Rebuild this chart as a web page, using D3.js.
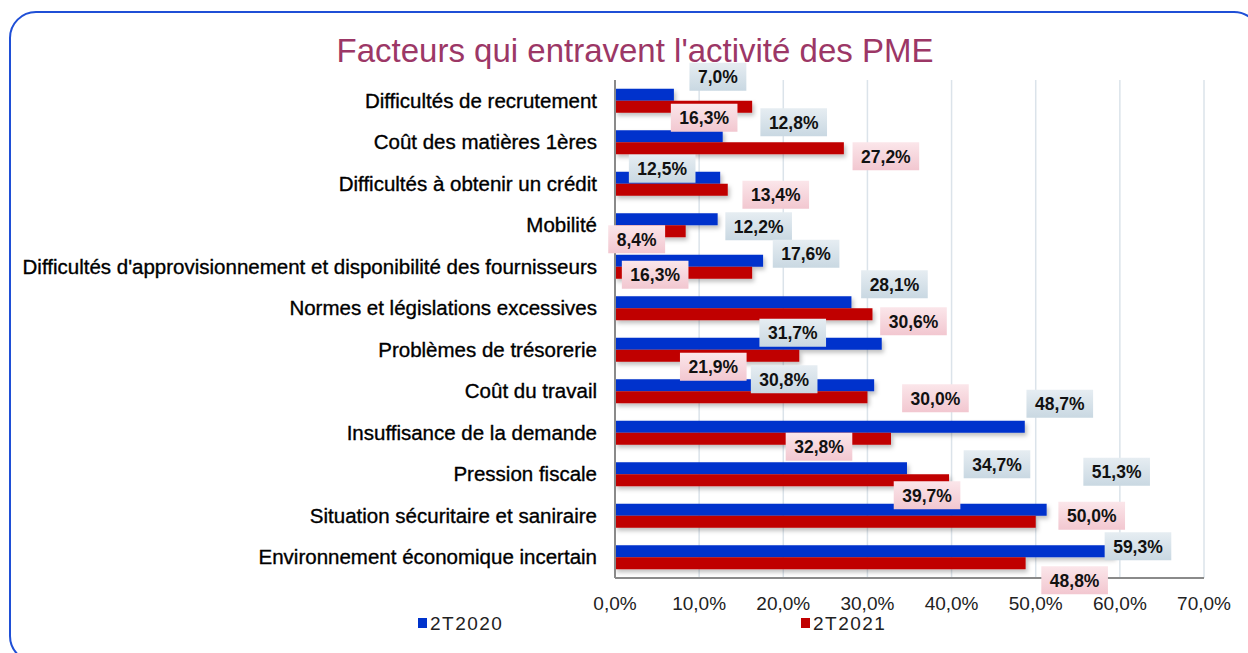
<!DOCTYPE html>
<html>
<head>
<meta charset="utf-8">
<script src="https://cdn.jsdelivr.net/npm/d3@7/dist/d3.min.js"></script>
<style>
  body { margin: 0; background: #fff; }
  svg { display: block; font-family: 'Liberation Sans', Arial, sans-serif; }
</style>
</head>
<body>
<svg id="chart" width="1248" height="653"></svg>
<script>
var categories = [
  'Difficultés de recrutement',
  'Coût des matières 1ères',
  'Difficultés à obtenir un crédit',
  'Mobilité',
  "Difficultés d'approvisionnement et disponibilité des fournisseurs",
  'Normes et législations excessives',
  'Problèmes de trésorerie',
  'Coût du travail',
  'Insuffisance de la demande',
  'Pression fiscale',
  'Situation sécuritaire et saniraire',
  'Environnement économique incertain'
]
var values2020 = [7.0, 12.8, 12.5, 12.2, 17.6, 28.1, 31.7, 30.8, 48.7, 34.7, 51.3, 59.3]
var values2021 = [16.3, 27.2, 13.4, 8.4, 16.3, 30.6, 21.9, 30.0, 32.8, 39.7, 50.0, 48.8]
var seriesNames = ['2T2020', '2T2021']
var xTicks = [0, 10, 20, 30, 40, 50, 60, 70]

// hand placed data labels in the original, nudges from the bar end (px)
var nudge2020 = [[44, -18], [71, -14], [-58, -9], [41, 7], [43, -7], [43, -18], [-89, -11], [-90, -6], [35, -23], [90, -4], [70, -38], [24, -5]]
var nudge2021 = [[-48, 11], [42, 8], [48, 5], [-49, 8], [-97, 2], [41, 7], [-86, 11], [68, 1], [-72, 8], [-22, 15], [56, -6], [49, 17]]

var svg = d3.select('#chart')
var margin = { left: 615, right: 44, top: 80, bottom: 75 }
var width = 1248 - margin.left - margin.right
var height = 653 - margin.top - margin.bottom

var defs = svg.append('defs')
function grad (id, c1, c2) {
  var g = defs.append('linearGradient').attr('id', id).attr('x1', 0).attr('y1', 0).attr('x2', 0).attr('y2', 1)
  g.append('stop').attr('offset', '0%').attr('stop-color', c1)
  g.append('stop').attr('offset', '100%').attr('stop-color', c2)
}
grad('lblBlue', '#e6edf2', '#c9d8e2')
grad('lblRed', '#fbe6ea', '#f2c7d0')
var shadow = defs.append('filter').attr('id', 'shadow').attr('x', '-5%').attr('y', '-50%').attr('width', '115%').attr('height', '250%')
shadow.append('feDropShadow').attr('dx', 2).attr('dy', 3).attr('stdDeviation', 2).attr('flood-color', '#000').attr('flood-opacity', 0.25)

// frame
svg.append('rect')
  .attr('x', 10).attr('y', 12).attr('width', 1250).attr('height', 650)
  .attr('rx', 26)
  .attr('fill', 'none').attr('stroke', '#1f4fd6').attr('stroke-width', 2)

svg.append('text')
  .attr('x', 635).attr('y', 62)
  .attr('text-anchor', 'middle')
  .attr('fill', '#9c3766')
  .style('font-size', '33px')
  .text("Facteurs qui entravent l'activité des PME")

var x = d3.scaleLinear().domain([0, 70]).range([0, width])
var y = d3.scaleBand().domain(categories).range([0, height])
var sub = d3.scaleBand().domain(seriesNames).range([0, 24])
var yOff = (y.bandwidth() - 24) / 2

var g = svg.append('g').attr('transform', 'translate(' + margin.left + ',' + margin.top + ')')

g.selectAll('.grid').data(xTicks.slice(1)).enter().append('line')
  .attr('x1', (d) => x(d)).attr('x2', (d) => x(d))
  .attr('y1', 0).attr('y2', height)
  .attr('stroke', '#dbe3ea').attr('stroke-width', 1.5)

var series = [
  { name: seriesNames[0], values: values2020, color: '#0033cc', fill: 'url(#lblBlue)', nudge: nudge2020 },
  { name: seriesNames[1], values: values2021, color: '#c00000', fill: 'url(#lblRed)', nudge: nudge2021 }
]

series.forEach((s) => {
  g.selectAll('.bar-' + s.name).data(s.values).enter().append('rect')
    .attr('x', 0)
    .attr('y', (d, i) => y(categories[i]) + yOff + sub(s.name))
    .attr('width', (d) => x(d))
    .attr('height', sub.bandwidth())
    .attr('fill', s.color)
    .attr('filter', 'url(#shadow)')
})

// axes lines
g.append('line').attr('x1', 0).attr('x2', 0).attr('y1', 0).attr('y2', height)
  .attr('stroke', '#8a8a8a').attr('stroke-width', 2)
g.append('line').attr('x1', 0).attr('x2', width).attr('y1', height).attr('y2', height)
  .attr('stroke', '#8a8a8a').attr('stroke-width', 2)

var fmt = (v) => v.toFixed(1).replace('.', ',') + '%'

series.forEach((s) => {
  var lbl = g.selectAll('.lbl-' + s.name).data(s.values).enter().append('g')
    .attr('transform', (d, i) => {
      var cx = x(d) + s.nudge[i][0]
      var cy = y(categories[i]) + yOff + sub(s.name) + sub.bandwidth() / 2 + s.nudge[i][1]
      return 'translate(' + cx + ',' + cy + ')'
    })
  var txt = lbl.append('text')
    .attr('text-anchor', 'middle')
    .attr('dy', '0.36em')
    .style('font-size', '17.5px')
    .style('font-weight', 'bold')
    .attr('fill', '#111')
    .text(fmt)
  txt.each(function () {
    var w = this.getComputedTextLength() + 17
    d3.select(this.parentNode).insert('rect', 'text')
      .attr('x', -w / 2).attr('y', -14).attr('width', w).attr('height', 28)
      .attr('fill', s.fill)
  })
})

// category labels
g.selectAll('.cat').data(categories).enter().append('text')
  .attr('x', -18)
  .attr('y', (d) => y(d) + y.bandwidth() / 2)
  .attr('dy', '0.35em')
  .attr('text-anchor', 'end')
  .style('font-size', '20.5px')
  .attr('fill', '#000')
  .attr('stroke', '#000').attr('stroke-width', 0.35)
  .text((d) => d)

// x tick labels
g.selectAll('.tick').data(xTicks).enter().append('text')
  .attr('x', (d) => x(d))
  .attr('y', height + 32)
  .attr('text-anchor', 'middle')
  .style('font-size', '19px')
  .attr('fill', '#222')
  .text((d) => d.toFixed(1).replace('.', ',') + '%')

// legend
var legendX = [418, 801]
series.forEach((s, i) => {
  svg.append('rect').attr('x', legendX[i]).attr('y', 618).attr('width', 9).attr('height', 10).attr('fill', s.color)
  svg.append('text').attr('x', legendX[i] + 12).attr('y', 630)
    .style('font-size', '19px').style('letter-spacing', '1.5px')
    .attr('fill', '#222').text(s.name)
})
</script>
</body>
</html>
